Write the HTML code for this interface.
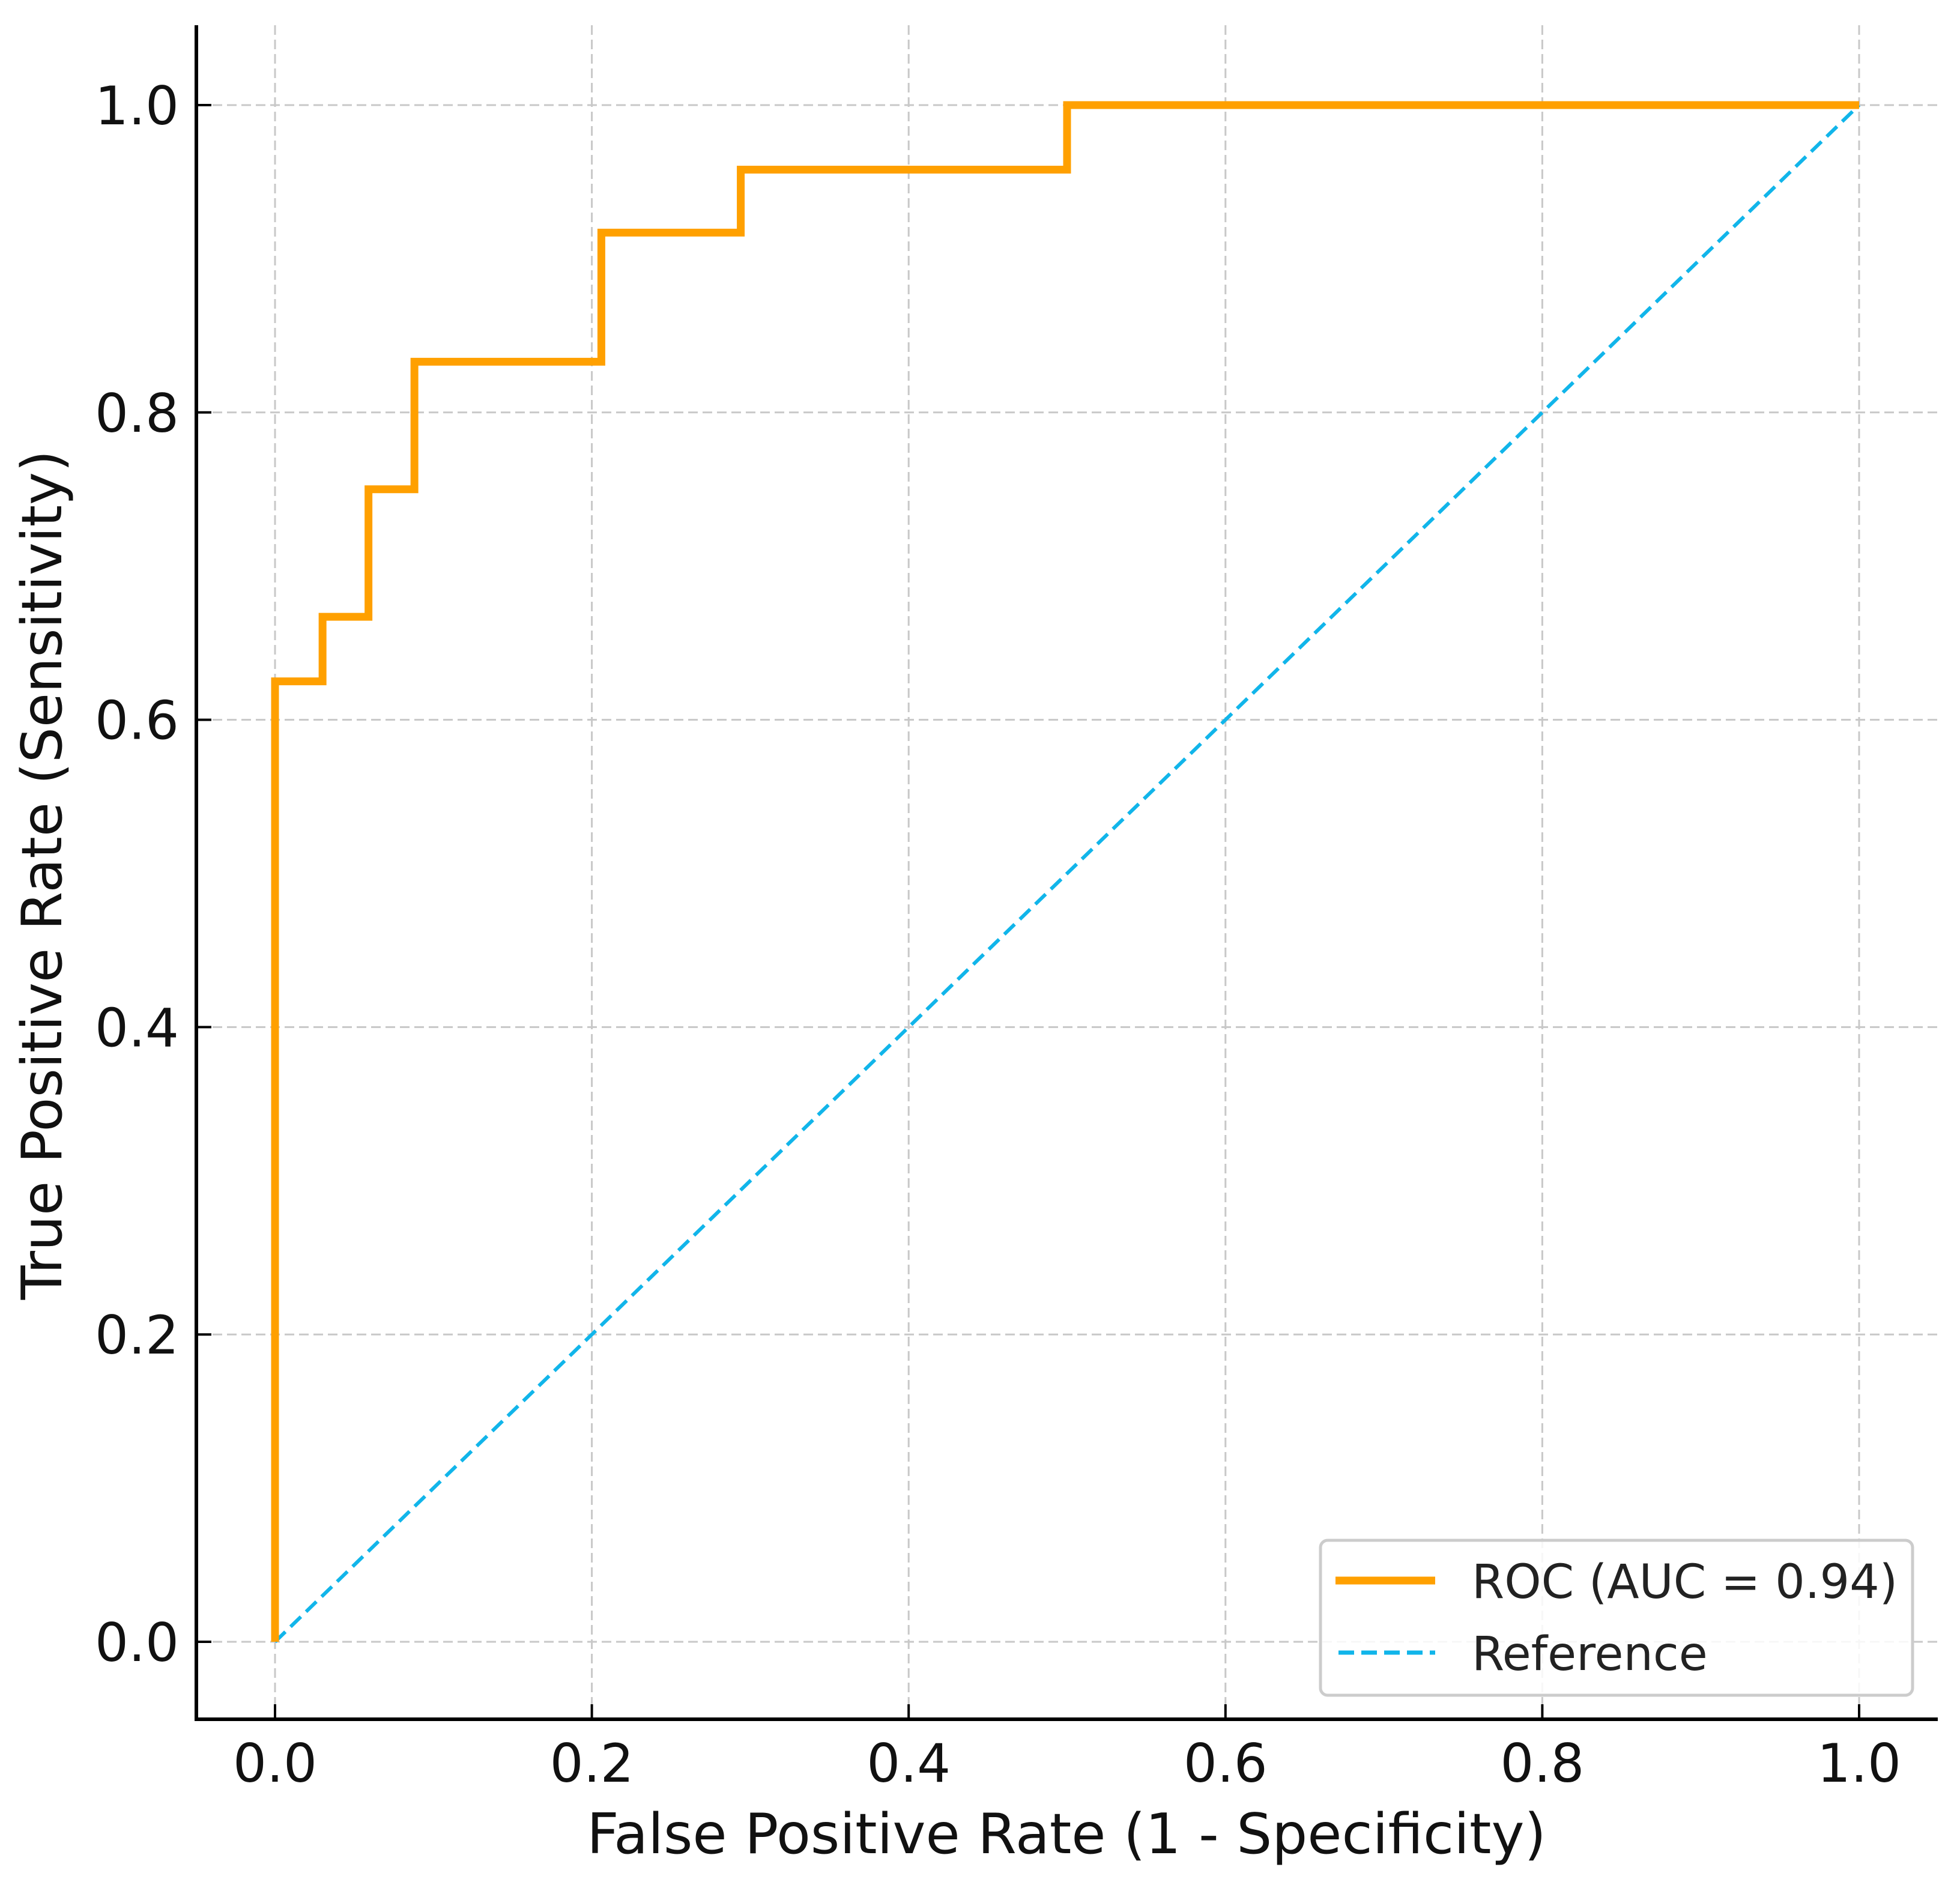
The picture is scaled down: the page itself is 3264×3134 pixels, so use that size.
<!DOCTYPE html>
<html><head><meta charset="utf-8"><style>
html,body{margin:0;padding:0;background:#fff;}
svg{display:block;font-family:"DejaVu Sans","Liberation Sans",sans-serif;}
</style></head><body>
<svg id="chart" width="3264" height="3134" viewBox="0 0 3264 3134" xmlns="http://www.w3.org/2000/svg">
<g id="grid"></g>
<g id="series"></g>
<g id="axes">
<line x1="327" y1="42" x2="327" y2="2866" stroke="#000" stroke-width="6"/>
<line x1="324" y1="2863" x2="3227" y2="2863" stroke="#000" stroke-width="6"/>
</g>
<g id="ticks"></g>
<text x="1776" y="3086" font-size="93" text-anchor="middle" fill="#111">False Positive Rate (1 - Specificity)</text>
<text transform="translate(102,1457) rotate(-90)" font-size="93" text-anchor="middle" fill="#111">True Positive Rate (Sensitivity)</text>
<g>
<rect x="2199" y="2565" width="986" height="258" rx="12" fill="#fff" fill-opacity="0.85" stroke="#ccc" stroke-width="5"/>
<line x1="2224" y1="2632" x2="2390" y2="2632" stroke="#FFA000" stroke-width="13"/>
<text x="2451" y="2661" font-size="78" fill="#222">ROC (AUC = 0.94)</text>
<line x1="2229" y1="2752" x2="2390" y2="2752" stroke="#11B5EA" stroke-width="7" stroke-dasharray="26,12"/>
<text x="2451" y="2781" font-size="78" fill="#222">Reference</text>
</g>
</svg>
<script>
const rocFpr = [0, 0, 0.03, 0.03, 0.059, 0.059, 0.088, 0.088, 0.206, 0.206, 0.294, 0.294, 0.5, 0.5, 1];
const rocTpr = [0, 0.625, 0.625, 0.667, 0.667, 0.75, 0.75, 0.833, 0.833, 0.917, 0.917, 0.958, 0.958, 1, 1];
const refX = [0, 1];
const refY = [0, 1];
const xTicks = [0, 0.2, 0.4, 0.6, 0.8, 1.0];
const yTicks = [0, 0.2, 0.4, 0.6, 0.8, 1.0];
const xTickLabels = ["0.0", "0.2", "0.4", "0.6", "0.8", "1.0"];
const yTickLabels = ["0.0", "0.2", "0.4", "0.6", "0.8", "1.0"];

const NS = "http://www.w3.org/2000/svg";
const X0 = 458, XW = 2638, Y0 = 2734, YH = 2559;
function sx(v){ return X0 + v * XW; }
function sy(v){ return Y0 - v * YH; }
function mk(tag, attrs, parent){
  const e = document.createElementNS(NS, tag);
  for (const k in attrs) e.setAttribute(k, attrs[k]);
  parent.appendChild(e);
  return e;
}
const grid = document.getElementById('grid');
const ticks = document.getElementById('ticks');
const series = document.getElementById('series');

xTicks.forEach((v, i) => {
  const g = mk('line', {x1: sx(v), y1: 42, x2: sx(v), y2: 2860, stroke: '#c8c8c8', 'stroke-width': 3, 'stroke-dasharray': '16,8'}, grid);
  
  
  const t = mk('line', {x1: sx(v), y1: 2863, x2: sx(v), y2: 2838, stroke: '#000', 'stroke-width': 4}, ticks);
  
  
  const l = mk('text', {x: sx(v), y: 2967, 'font-size': 88, 'text-anchor': 'middle', fill: '#111'}, ticks);
  l.textContent = xTickLabels[i];
  
  
});
yTicks.forEach((v, i) => {
  const g = mk('line', {x1: 330, y1: sy(v), x2: 3227, y2: sy(v), stroke: '#c8c8c8', 'stroke-width': 3, 'stroke-dasharray': '16,8'}, grid);
  
  
  const t = mk('line', {x1: 327, y1: sy(v), x2: 352, y2: sy(v), stroke: '#000', 'stroke-width': 4}, ticks);
  
  
  const l = mk('text', {x: 298, y: sy(v) + 32, 'font-size': 88, 'text-anchor': 'end', fill: '#111'}, ticks);
  l.textContent = yTickLabels[i];
  
  
});

const refPts = refX.map((v, i) => sx(v) + ',' + sy(refY[i])).join(' ');
const refLine = mk('polyline', {points: refPts, fill: 'none', stroke: '#11B5EA', 'stroke-width': 6, 'stroke-dasharray': '24,12'}, series);



const rocPts = rocFpr.map((v, i) => sx(v) + ',' + sy(rocTpr[i])).join(' ');
const rocLine = mk('polyline', {points: rocPts, fill: 'none', stroke: '#FFA000', 'stroke-width': 13, 'stroke-linejoin': 'miter', 'stroke-linecap': 'butt'}, series);


</script>
</body></html>
